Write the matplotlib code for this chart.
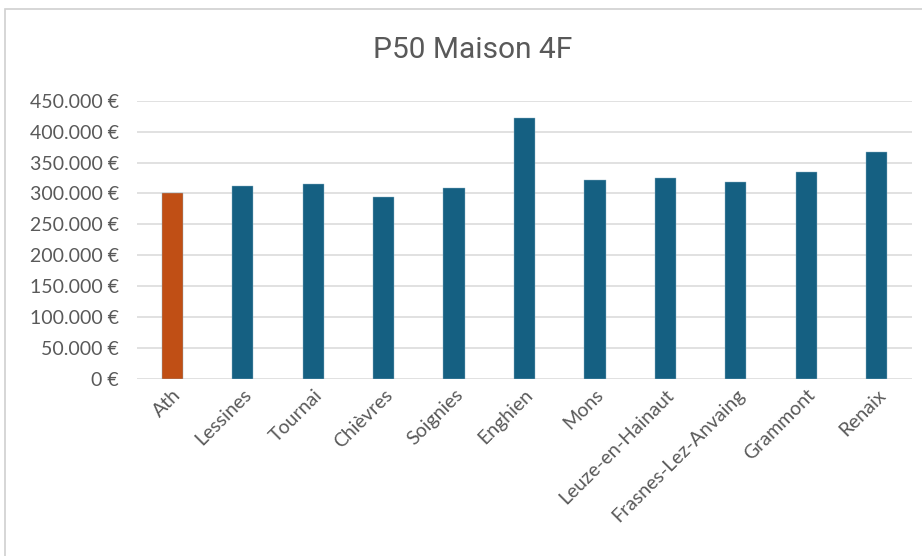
import matplotlib
matplotlib.use("Agg")
import matplotlib.pyplot as plt
from matplotlib.patches import Rectangle
from matplotlib.ticker import FuncFormatter

categories = ["Ath", "Lessines", "Tournai", "Chièvres", "Soignies", "Enghien",
              "Mons", "Leuze-en-Hainaut", "Frasnes-Lez-Anvaing", "Grammont", "Renaix"]
values = [300000, 312500, 315700, 293600, 309300, 422400,
          322200, 325400, 319000, 335100, 366400]
highlight = "Ath"
yticks = [0, 50000, 100000, 150000, 200000, 250000, 300000, 350000, 400000, 450000]
title = "P50 Maison 4F"

blue = "#156082"
orange = "#C04F15"
text_col = "#595959"
grid_col = "#D9D9D9"

W, H = 922, 556
fig = plt.figure(figsize=(W / 100, H / 100), dpi=100)
fig.patch.set_facecolor("white")

# chart border
fig.add_artist(Rectangle((5 / W, -0.1), 1.2, 1 - 9 / H + 0.1, transform=fig.transFigure,
                         fill=False, edgecolor="#D0D0D0", linewidth=1.2))

ax = fig.add_axes([137 / W, 1 - 379 / H, (912 - 137) / W, (379 - 100.7) / H])
colors = [orange if c == highlight else blue for c in categories]
x = range(len(categories))
ax.bar(x, values, width=0.3, color=colors, edgecolor="#8FB3C6", linewidth=0.3, zorder=3)

ax.set_xlim(-0.5, len(categories) - 0.5)
ax.set_ylim(0, 450000)
ax.set_yticks(yticks)
ax.yaxis.set_major_formatter(FuncFormatter(
    lambda v, p: ("0 €" if v == 0 else f"{int(v):,} €".replace(",", "."))))
ax.grid(axis="y", color=grid_col, linewidth=1.1, zorder=0)
for s in ax.spines.values():
    s.set_visible(False)
ax.tick_params(axis="both", length=0, colors=text_col)
ax.tick_params(axis="y", pad=13)
ax.tick_params(axis="x", pad=5)
for lab in ax.get_yticklabels():
    lab.set_fontfamily(["Lato", "DejaVu Sans"])
    lab.set_fontsize(14)
    lab.set_color(text_col)

ax.set_xticks(list(x))
ax.set_xticklabels(categories, rotation=45, ha="right", rotation_mode="anchor",
                   fontsize=14, color=text_col, family=["Lato", "DejaVu Sans"])

fig.text(473 / W, 1 - 50 / H, title, ha="center", va="center", fontsize=21.5,
         color=text_col, family=["Roboto", "DejaVu Sans"])

fig.savefig("out.png", dpi=100, facecolor="white")
